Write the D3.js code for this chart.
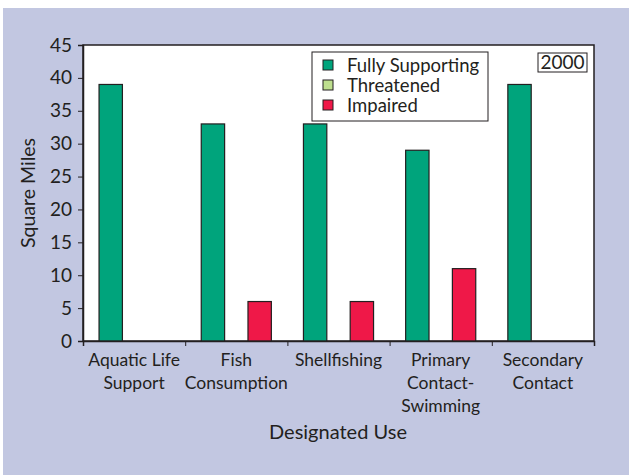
<!DOCTYPE html>
<html><head><meta charset="utf-8">
<script src="https://cdn.jsdelivr.net/npm/d3@7"></script>
<style>body{margin:0;background:#fff}svg{display:block}text{font-family:Lato,"Open Sans",sans-serif;fill:#231f20}</style>
</head><body>
<svg id="c" width="629" height="475"></svg>
<script>
const categories = [["Aquatic Life","Support"],["Fish","Consumption"],["Shellfishing"],["Primary","Contact-","Swimming"],["Secondary","Contact"]];
const seriesNames = ["Fully Supporting","Threatened","Impaired"];
const fullySupporting = [39,33,33,29,39];
const threatened = [0,0,0,0,0];
const impaired = [0,6,6,11,0];
const yTicks = [0,5,10,15,20,25,30,35,40,45];
const colors = ["#00a47c","#bedf8e","#ef1848"];
const series = [fullySupporting, threatened, impaired];

const svg = d3.select("#c");
svg.append("rect").attr("x",3).attr("y",8).attr("width",626).attr("height",467).attr("fill","#c2c7e1");

const m = {l:83,t:45,r:594,b:341};
const x = d3.scaleBand().domain(d3.range(categories.length)).range([m.l,m.r]).paddingInner(0.314).paddingOuter(0.157);
const xi = d3.scaleBand().domain(d3.range(3)).range([0,x.bandwidth()]);
const y = d3.scaleLinear().domain([0,45]).range([m.b,m.t]);

svg.append("rect").attr("x",m.l).attr("y",m.t).attr("width",m.r-m.l).attr("height",m.b-m.t).attr("fill","#fff").attr("stroke","#231f20").attr("stroke-width",1.5);

categories.forEach((c,i)=>{
  series.forEach((s,j)=>{
    if(s[i]>0) svg.append("rect").attr("x",x(i)+xi(j)).attr("y",y(s[i])).attr("width",xi.bandwidth()).attr("height",y(0)-y(s[i]))
      .attr("fill",colors[j]).attr("stroke","#231f20").attr("stroke-width",1.2);
  });
});

// y axis
const ya = svg.append("g").attr("transform",`translate(${m.l},0)`).call(d3.axisLeft(y).tickValues(yTicks).tickSize(5).tickPadding(6));
ya.select(".domain").attr("stroke","#231f20").attr("stroke-width",1.5);
ya.selectAll("line").attr("stroke","#231f20");
ya.selectAll("text").attr("font-size",19).style("font-family","Lato,'Open Sans',sans-serif").attr("fill","#231f20");

// x axis ticks at band boundaries
const xb = d3.scaleLinear().domain([0,categories.length]).range([m.l,m.r]);
const xa = svg.append("g").attr("transform",`translate(0,${m.b})`).call(d3.axisBottom(xb).tickValues(d3.range(categories.length+1)).tickSize(5).tickFormat(""));
xa.select(".domain").attr("stroke","#231f20").attr("stroke-width",1.5);
xa.selectAll("line").attr("stroke","#231f20");

categories.forEach((c,i)=>{
  const t = svg.append("text").attr("x",x(i)+x.bandwidth()/2).attr("y",366).attr("text-anchor","middle").attr("font-size",17.5);
  c.forEach((ln,k)=>t.append("tspan").attr("x",x(i)+x.bandwidth()/2).attr("dy",k?23:0).text(ln));
});

svg.append("text").attr("x",338).attr("y",439).attr("text-anchor","middle").attr("font-size",20).text("Designated Use");
svg.append("text").attr("transform","translate(35,193) rotate(-90)").attr("text-anchor","middle").attr("font-size",19.5).text("Square Miles");

// legend
const lg = svg.append("g");
lg.append("rect").attr("x",312).attr("y",52).attr("width",176).attr("height",69).attr("fill","#fff").attr("stroke","#231f20").attr("stroke-width",1);
const lt = lg.append("text").attr("x",347).attr("y",71.5).attr("font-size",18.5);
seriesNames.forEach((n,j)=>{
  const cy = 65 + j*20;
  lg.append("rect").attr("x",323).attr("y",cy-5).attr("width",10).attr("height",10).attr("fill",colors[j]).attr("stroke","#231f20").attr("stroke-width",1);
  lt.append("tspan").attr("x",347).attr("dy",j?20:0).text(n);
});
svg.append("rect").attr("x",538).attr("y",53).attr("width",49).attr("height",19).attr("fill","#fff").attr("stroke","#231f20").attr("stroke-width",1);
svg.append("text").attr("x",562.5).attr("y",69).attr("text-anchor","middle").attr("font-size",19).text("2000");
</script>
</body></html>
